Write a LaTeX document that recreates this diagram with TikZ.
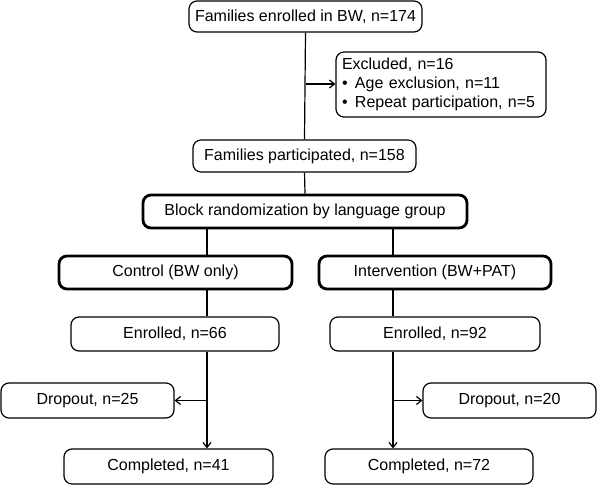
\documentclass[tikz,border=0pt]{standalone}
\usepackage{fontspec}
\setmainfont{Liberation Sans}
\usetikzlibrary{arrows.meta}

\begin{document}
\begin{tikzpicture}[x=1pt,y=-1pt,
  box/.style={draw, line width=1.2pt, rounded corners=8pt, inner sep=0pt,
    font=\fontsize{16}{19}\selectfont},
  boldbox/.style={box, line width=2.8pt},
  link/.style={line width=1.2pt},
  arr/.style={link, -{Straight Barb[length=5pt,width=8pt,line width=1.2pt]}}]
\useasboundingbox (0,0) rectangle (598,486);
% top part
\node[box, minimum width=233pt, minimum height=31pt] (famenr) at (305.5,16.5) {Families enrolled in BW, n=174};
\node[box, minimum width=210pt, minimum height=65pt, text width=198pt, align=left] (excl) at (441,84.5)
  {Excluded, n=16\\
   \makebox[13pt][l]{\textbullet}Age exclusion, n=11\\
   \makebox[13pt][l]{\textbullet}Repeat participation, n=5};
\node[box, minimum width=223pt, minimum height=32pt] (fampart) at (304.5,156) {Families participated, n=158};
\node[boldbox, minimum width=324pt, minimum height=33pt] (block) at (305,211.5) {Block randomization by language group};
% two arms
\node[boldbox, minimum width=233pt, minimum height=33pt] (ctrl) at (175.5,272.5) {Control (BW only)};
\node[boldbox, minimum width=232pt, minimum height=33pt] (interv) at (435,272.5) {Intervention (BW+PAT)};
\node[box, minimum width=208pt, minimum height=34pt] (enrctrl) at (175,334) {Enrolled, n=66};
\node[box, minimum width=210pt, minimum height=34pt] (enrint) at (435,334) {Enrolled, n=92};
\node[box, minimum width=173pt, minimum height=35pt] (dropctrl) at (87.5,400.5) {Dropout, n=25};
\node[box, minimum width=173pt, minimum height=35pt] (dropint) at (509.5,400.5) {Dropout, n=20};
\node[box, minimum width=209pt, minimum height=35pt] (compctrl) at (168.5,466.5) {Completed, n=41};
\node[box, minimum width=208pt, minimum height=35pt] (compint) at (429,466.5) {Completed, n=72};
% connectors
\coordinate (lx) at (207,0);
\coordinate (rx) at (393,0);
\coordinate (exy) at (0,84);
\coordinate (dy) at (0,400.5);
\draw[link] (famenr.south) -- (fampart.north);
\draw[arr] (famenr.south |- exy) -- (excl.west |- exy);
\draw[link] (fampart.south) -- (block.north);
\draw[link] (block.south -| lx) -- (ctrl.north -| lx);
\draw[link] (block.south -| rx) -- (interv.north -| rx);
\draw[link] (ctrl.south -| lx) -- (enrctrl.north -| lx);
\draw[link] (interv.south -| rx) -- (enrint.north -| rx);
\draw[arr] (enrctrl.south -| lx) -- (compctrl.north -| lx);
\draw[arr] (enrint.south -| rx) -- (compint.north -| rx);
\draw[arr] (lx |- dy) -- (dropctrl.east);
\draw[arr] (rx |- dy) -- (dropint.west);
\end{tikzpicture}
\end{document}
